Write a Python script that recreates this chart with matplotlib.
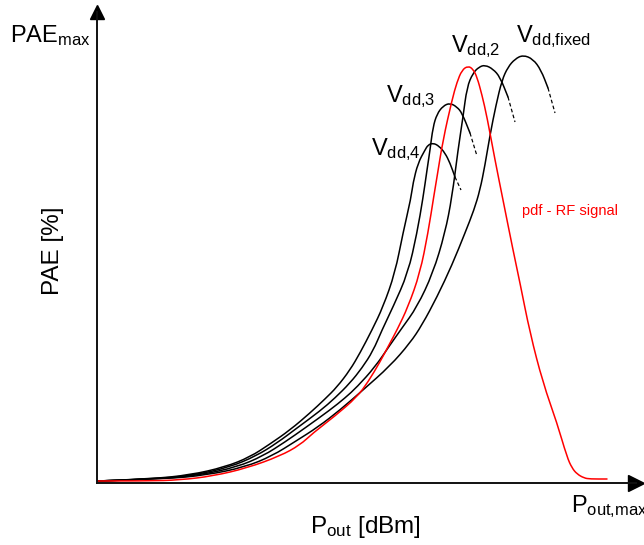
import matplotlib
matplotlib.use("Agg")
import matplotlib.pyplot as plt
from matplotlib.path import Path
from matplotlib.patches import PathPatch

plt.rcParams['font.family'] = ['Liberation Sans', 'DejaVu Sans']
plt.rcParams['mathtext.fontset'] = 'custom'
plt.rcParams['mathtext.rm'] = 'Liberation Sans'
plt.rcParams['mathtext.it'] = 'Liberation Sans:italic'
plt.rcParams['mathtext.bf'] = 'Liberation Sans:bold'

# PAE curves (schematic units), solid part + dashed tail
vdd4_x = [1, 53, 93, 128, 153, 173, 193, 213, 228, 240, 253, 263, 275, 286, 298,
          306, 314, 316, 321, 328, 331, 336, 342, 348, 353, 358]
vdd4_y = [2, 4, 8, 16, 26, 39, 53, 70, 84, 96, 113, 130, 153, 176, 210,
          250, 285, 300, 320, 333, 338, 340, 337, 330, 320, 306]
vdd4_tail_x = [358, 364]
vdd4_tail_y = [306, 293]

vdd3_x = [1, 58, 98, 133, 159, 180, 200, 223, 238, 253, 265, 276, 285, 296, 311,
          320, 326, 330, 333, 336, 340, 346, 353, 360, 365, 373]
vdd3_y = [2, 4, 8, 16, 27, 40, 55, 72, 85, 100, 115, 132, 153, 176, 210,
          250, 285, 313, 333, 356, 369, 377, 380, 376, 370, 350]
vdd3_tail_x = [373, 380]
vdd3_tail_y = [350, 327]

vdd2_x = [1, 63, 103, 140, 166, 188, 208, 233, 248, 260, 278, 293, 305, 320, 336,
          348, 355, 361, 366, 370, 376, 382, 388, 396, 403, 411]
vdd2_y = [2, 4, 8, 16, 27, 41, 55, 73, 85, 96, 116, 138, 155, 176, 210,
          250, 286, 333, 366, 396, 410, 416, 418, 414, 406, 386]
vdd2_tail_x = [411, 418]
vdd2_tail_y = [386, 361]

vfix_x = [1, 68, 110, 148, 175, 199, 221, 243, 266, 293, 313, 325, 340, 355, 368,
          377, 383, 388, 393, 399, 405, 411, 418, 426, 436, 444, 451]
vfix_y = [2, 4, 8, 16, 27, 42, 56, 73, 93, 117, 140, 158, 186, 218, 250,
          273, 293, 318, 348, 378, 403, 416, 424, 428, 424, 413, 395]
vfix_tail_x = [451, 458]
vfix_tail_y = [395, 370]

# pdf of the RF signal
pdf_x = [1, 50, 83, 116, 150, 183, 203, 216, 238, 260, 271, 283, 293, 300, 311,
         323, 331, 337, 340, 346, 355, 360, 365, 371, 376, 380, 385, 390, 398,
         406, 416, 423, 433, 446, 460, 470, 475, 480, 487, 493, 510]
pdf_y = [2, 2, 3, 7, 15, 27, 38, 50, 67, 86, 101, 121, 140, 153, 176,
         210, 250, 288, 306, 343, 383, 401, 413, 417, 414, 406, 388, 366, 323,
         283, 233, 200, 150, 100, 60, 26, 15, 9, 5, 4, 4]


def smooth_line(ax, xs, ys, **kw):
    # quadratic b-spline through the read points, drawn as a bezier path
    pts = list(zip(xs, ys))
    verts = [pts[0]]
    codes = [Path.MOVETO]
    for i in range(1, len(pts) - 1):
        mid = ((pts[i][0] + pts[i + 1][0]) / 2, (pts[i][1] + pts[i + 1][1]) / 2)
        verts += [pts[i], mid]
        codes += [Path.CURVE3, Path.CURVE3]
    verts.append(pts[-1])
    codes.append(Path.LINETO)
    ax.add_patch(PathPatch(Path(verts, codes), fill=False, capstyle='round', **kw))


fig = plt.figure(figsize=(6.44, 5.45), dpi=100)
ax = fig.add_axes([97 / 644, 62 / 545, 539 / 644, 471.5 / 545])
ax.set_xlim(0, 539)
ax.set_ylim(0, 471.5)

for s in ['top', 'right']:
    ax.spines[s].set_visible(False)
for s in ['left', 'bottom']:
    ax.spines[s].set_linewidth(1.4)
    ax.spines[s].set_color('#111111')
ax.set_xticks([])
ax.set_yticks([])
ax.plot(1, 0, '>', color='k', ms=11, transform=ax.transAxes, clip_on=False)
ax.plot(0, 1, '^', color='k', ms=10, transform=ax.transAxes, clip_on=False)

lw = 1.1
for cx, cy, tx, ty in [(vdd4_x, vdd4_y, vdd4_tail_x, vdd4_tail_y),
                       (vdd3_x, vdd3_y, vdd3_tail_x, vdd3_tail_y),
                       (vdd2_x, vdd2_y, vdd2_tail_x, vdd2_tail_y),
                       (vfix_x, vfix_y, vfix_tail_x, vfix_tail_y)]:
    smooth_line(ax, cx, cy, color='k', lw=lw)
    ax.plot(tx, ty, color='k', lw=lw * 0.8, ls=(0, (3, 2)))
smooth_line(ax, pdf_x, pdf_y, color='#ff0000', lw=lw)

fs = 17
ax.text(-87, 441, r'PAE$_{\mathrm{max}}$', fontsize=fs, ha='left', va='baseline')
ax.text(-44, 232, 'PAE [%]', fontsize=17.5, rotation=90, ha='center', va='center')
ax.text(213, -50, r'P$_{\mathrm{out}}$ [dBm]', fontsize=17.5, ha='left', va='baseline')
ax.text(474, -29, r'P$_{\mathrm{out{,}max}}$', fontsize=fs, ha='left', va='baseline')

ax.text(419, 441, r'V$_{\mathrm{dd{,}fixed}}$', fontsize=fs, ha='left', va='baseline')
ax.text(354, 431, r'V$_{\mathrm{dd{,}2}}$', fontsize=fs, ha='left', va='baseline')
ax.text(289, 381, r'V$_{\mathrm{dd{,}3}}$', fontsize=fs, ha='left', va='baseline')
ax.text(274, 328, r'V$_{\mathrm{dd{,}4}}$', fontsize=fs, ha='left', va='baseline')
ax.text(425, 268, 'pdf - RF signal', fontsize=10.5, color='#ff0000',
        ha='left', va='baseline')

fig.savefig('out.png', dpi=100)
